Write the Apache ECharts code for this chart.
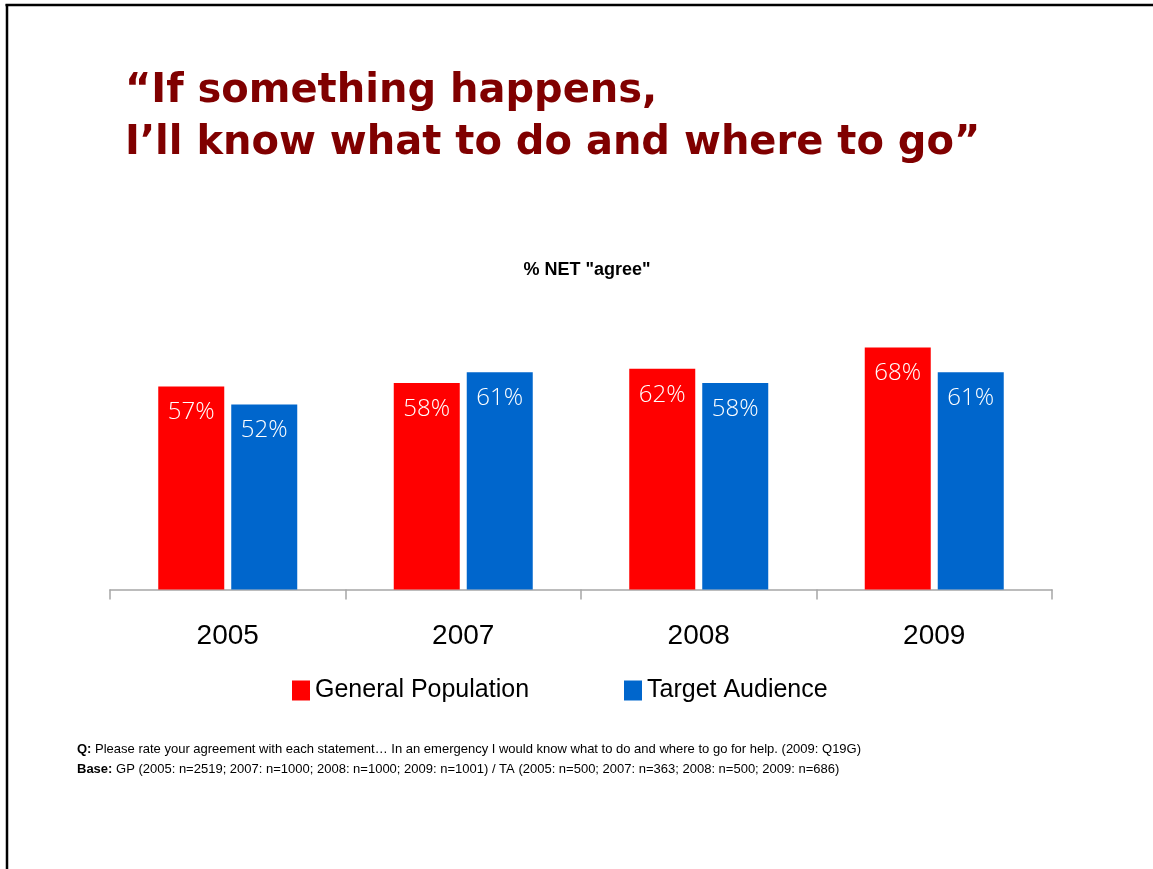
<!DOCTYPE html>
<html>
<head>
<meta charset="utf-8">
<style>
  html, body { margin: 0; padding: 0; background: #fff; }
  #chart { width: 1153px; height: 869px; }
</style>
<script src="https://cdn.jsdelivr.net/npm/echarts@6/dist/echarts.min.js"></script>
</head>
<body>
<div id="chart"></div>
<script>
// Survey years and share of respondents who agree (%)
const years = ['2005', '2007', '2008', '2009'];
const generalPopulation = [57, 58, 62, 68];
const targetAudience = [52, 61, 58, 61];
const seriesNames = ['General Population', 'Target Audience'];

const titleText = '\u201CIf something happens,\nI\u2019ll know what to do and where to go\u201D';
const subtitleText = '% NET "agree"';
const noteQuestion = 'Please rate your agreement with each statement\u2026 In an emergency I would know what to do and where to go for help. (2009: Q19G)';
const noteBase = 'GP (2005: n=2519; 2007: n=1000; 2008: n=1000; 2009: n=1001) / TA (2005: n=500; 2007: n=363; 2008: n=500; 2009: n=686)';

const narrow = '"Liberation Sans Narrow", "Arial Narrow", "Liberation Sans", sans-serif';
const labelFont = '"Open Sans", "Liberation Sans", sans-serif';

const chart = echarts.init(document.getElementById('chart'), null, { renderer: 'canvas' });

const barLabel = {
  show: true,
  position: 'insideTop',
  distance: 14,
  color: '#fff',
  fontFamily: labelFont,
  fontWeight: 300,
  fontSize: 24,
  formatter: p => p.value + '%'
};

const legendText = {
  fontFamily: narrow,
  fontSize: 25,
  color: '#000'
};

chart.setOption({
  animation: false,
  backgroundColor: '#fff',
  title: [
    {
      text: titleText,
      left: 120,
      top: 61,
      textStyle: {
        fontFamily: '"DejaVu Sans", sans-serif',
        fontWeight: 'bold',
        fontSize: 40,
        lineHeight: 52,
        color: '#800000'
      }
    },
    {
      text: subtitleText,
      left: 582,
      textAlign: 'center',
      top: 256,
      textStyle: {
        fontFamily: narrow,
        fontWeight: 'bold',
        fontSize: 18,
        color: '#000'
      }
    },
    {
      text: '{b|Q:} ' + noteQuestion + '\n{b|Base:} ' + noteBase,
      left: 72,
      top: 734,
      textStyle: {
        fontFamily: narrow,
        fontSize: 13,
        fontWeight: 'normal',
        lineHeight: 20,
        color: '#000',
        rich: {
          b: { fontFamily: narrow, fontSize: 13, fontWeight: 'bold', color: '#000' }
        }
      }
    }
  ],
  legend: [
    {
      data: [seriesNames[0]],
      left: 287,
      top: 673,
      icon: 'rect',
      itemWidth: 18,
      itemHeight: 20,
      textStyle: legendText
    },
    {
      data: [seriesNames[1]],
      left: 619,
      top: 673,
      icon: 'rect',
      itemWidth: 18,
      itemHeight: 20,
      textStyle: legendText
    }
  ],
  grid: {
    left: 110,
    right: 101,
    top: 233.5,
    bottom: 279.5,
    containLabel: false
  },
  xAxis: {
    type: 'category',
    data: years,
    axisLine: { show: true, lineStyle: { color: '#a6a6a6', width: 1.5 } },
    axisTick: { show: true, length: 10, lineStyle: { color: '#a6a6a6', width: 1.5 } },
    axisLabel: {
      margin: 33,
      fontFamily: narrow,
      fontSize: 28,
      color: '#000'
    }
  },
  yAxis: {
    type: 'value',
    min: 0,
    max: 100,
    show: false,
    splitLine: { show: false }
  },
  series: [
    {
      name: seriesNames[0],
      type: 'bar',
      data: generalPopulation,
      barWidth: 66,
      barGap: '10.6%',
      itemStyle: { color: '#ff0000' },
      label: barLabel
    },
    {
      name: seriesNames[1],
      type: 'bar',
      data: targetAudience,
      barWidth: 66,
      itemStyle: { color: '#0066cc' },
      label: barLabel
    }
  ],
  graphic: [
    { type: 'line', shape: { x1: 5.5, y1: 5, x2: 1153, y2: 5 }, style: { stroke: '#000', lineWidth: 2.5 } },
    { type: 'line', shape: { x1: 7, y1: 4, x2: 7, y2: 869 }, style: { stroke: '#000', lineWidth: 2.5 } }
  ]
});
</script>
</body>
</html>
